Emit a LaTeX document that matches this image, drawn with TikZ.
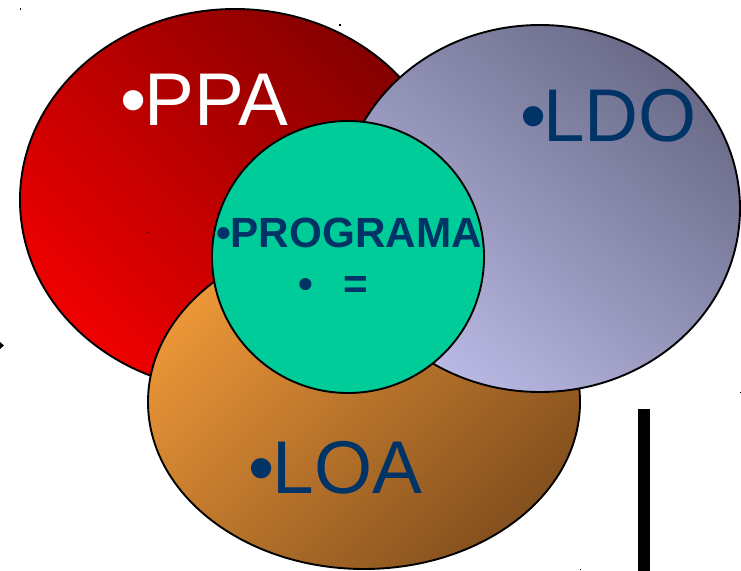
\documentclass[tikz,border=0pt]{standalone}
\usepackage{fontspec}
\setmainfont{Liberation Sans}
\definecolor{navy}{RGB}{0,51,102}
\definecolor{greenfill}{RGB}{0,204,153}
\tikzset{
  blob/.style={draw=black,line width=1.9bp},
  bigtext/.style={anchor=base west,inner sep=0pt,outer sep=0pt,font=\fontsize{75}{80}\selectfont},
  midtext/.style={anchor=base west,inner sep=0pt,outer sep=0pt,text=navy,font=\fontsize{42.4}{46}\selectfont\bfseries},
  speck/.style={fill=black,inner sep=0pt,minimum size=1.5bp},
}
\begin{document}
\begin{tikzpicture}[x=1bp,y=-1bp]
\useasboundingbox (0,0) rectangle (741,571);
\path[blob,top color={rgb,255:red,132;green,0;blue,0},bottom color={rgb,255:red,240;green,0;blue,0},shading angle=-45] (235,200) ellipse [x radius=215bp,y radius=191bp];
\path[blob,top color={rgb,255:red,235;green,150;blue,55},bottom color={rgb,255:red,132;green,80;blue,30},shading angle=45] (364,402) ellipse [x radius=216bp,y radius=167bp];
\path[blob,top color={rgb,255:red,106;green,106;blue,136},bottom color={rgb,255:red,186;green,186;blue,230},shading angle=-40] (540,208.5) ellipse [x radius=200bp,y radius=183.5bp];
\path[blob,fill=greenfill] (348,257) circle [radius=136bp];
\node[bigtext,text=white] (ppa) at (120.5,125.7) {•\kern-2bp PPA};
\node[bigtext,text=navy] (ldo) at (520,142) {•\kern-3bp LDO};
\node[bigtext,text=navy] (loa) at (248,493) {•\kern-1.5bp LOA};
\node[midtext] (prog) at (216,247.7) {•PROGRAMA};
\node[midtext] (eq) at (298,298) {•\hspace{31bp}=};
\fill[black] (638,409) rectangle (650,571);
\fill[black] (0,342) -- (4,345.5) -- (0,349) -- cycle;
\node[speck] (s1) at (20.5,9) {};
\node[speck] (s2) at (340,25) {};
\node[speck] (s3) at (148.5,232.5) {};
\node[speck] (s4) at (580.5,569.5) {};
\node[speck] (s5) at (740.5,392.5) {};
\end{tikzpicture}
\end{document}
